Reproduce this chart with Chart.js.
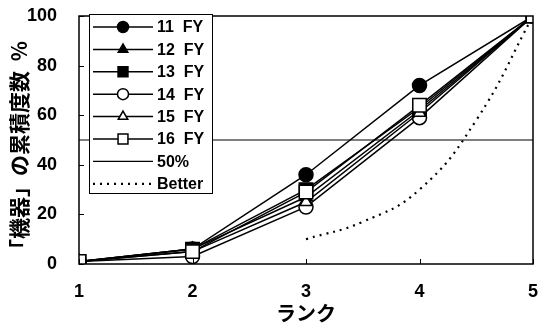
<!DOCTYPE html>
<html>
<head>
<meta charset="utf-8">
<script src="https://cdn.jsdelivr.net/npm/chart.js@4.4.0/dist/chart.umd.min.js"></script>
<style>
  html, body { margin: 0; padding: 0; background: #fff; }
  #wrap { width: 550px; height: 332px; }
</style>
</head>
<body>
<div id="wrap"><canvas id="myChart"></canvas></div>
<script>
// ランク (x) and cumulative share per fiscal year
const ranks = [1, 2, 3, 4, 5];
const fy11 = [1, 6, 36, 72, 100];
const fy12 = [1, 6, 27, 62, 100];
const fy13 = [1, 6, 30, 63, 100];
const fy14 = [1, 3, 23, 59, 100];
const fy15 = [1, 5, 25, 61, 100];
const fy16 = [1, 5, 29, 64, 100];
const half = [50, 50, 50, 50, 50];
const betterX = [3, 3.5, 4, 4.5, 5];
const betterY = [10, 17, 30, 58, 100];
const yTicks = [0, 20, 40, 60, 80, 100];

const numFont = "'Liberation Sans Narrow', 'Liberation Sans', sans-serif";
const jpFont = "'Noto Sans CJK JP', sans-serif";

function pts(xs, ys) {
    return xs.map((x, i) => ({ x: x, y: ys[i] }));
}

function series(label, ys, style, filled, radius) {
    return {
        label: label,
        data: pts(ranks, ys),
        borderColor: '#000',
        borderWidth: 1.5,
        pointStyle: style,
        pointRadius: radius,
        pointBorderWidth: 1.5,
        pointBorderColor: '#000',
        pointBackgroundColor: filled ? '#000' : '#fff',
        tension: 0
    };
}

const datasets = [
    series('11  FY', fy11, 'circle', true, 7),
    series('12  FY', fy12, 'triangle', true, 7),
    series('13  FY', fy13, 'rect', true, 9.5),
    series('14  FY', fy14, 'circle', false, 7),
    series('15  FY', fy15, 'triangle', false, 7),
    series('16  FY', fy16, 'rect', false, 9.5),
    { label: '50%', data: pts(ranks, half), borderColor: '#000', borderWidth: 1.2, pointRadius: 0 },
    { label: 'Better', data: pts(betterX, betterY), borderColor: '#000', borderWidth: 2.2,
      borderDash: [2, 5], pointRadius: 0, tension: 0.45 }
];
// later fiscal years sit on top (16 FY highest)
datasets.forEach((d, i) => { d.order = i < 6 ? 5 - i : i; });

// frame, inward tick marks and the boxed legend
const framePlugin = {
    id: 'frame',
    afterDatasetsDraw(chart) {
        const c = chart.ctx, a = chart.chartArea;
        const xs = chart.scales.x, ys = chart.scales.y;
        c.save();
        c.strokeStyle = '#000';
        c.lineWidth = 1.5;
        c.strokeRect(a.left, a.top, a.right - a.left, a.bottom - a.top);
        c.lineWidth = 1;
        c.beginPath();
        ranks.forEach(r => {
            const px = Math.round(xs.getPixelForValue(r)) + 0.5;
            c.moveTo(px, a.bottom); c.lineTo(px, a.bottom - 5);
        });
        yTicks.forEach(t => {
            const py = Math.round(ys.getPixelForValue(t)) + 0.5;
            c.moveTo(a.left, py); c.lineTo(a.left + 5, py);
        });
        c.stroke();

        // legend box
        const bx = 89, by = 14, bw = 123, bh = 179;
        c.fillStyle = '#fff';
        c.fillRect(bx, by, bw, bh);
        c.lineWidth = 1;
        c.strokeRect(bx + 0.5, by + 0.5, bw, bh);
        chart.data.datasets.forEach((d, i) => {
            const y = by + 13 + i * 22.4;
            c.strokeStyle = '#000';
            c.lineWidth = d.borderWidth;
            c.setLineDash(d.borderDash || []);
            c.beginPath();
            c.moveTo(bx + 4, y); c.lineTo(bx + 64, y);
            c.stroke();
            c.setLineDash([]);
            if (d.pointRadius) {
                c.fillStyle = d.pointBackgroundColor;
                c.lineWidth = d.pointBorderWidth;
                Chart.helpers.drawPoint(c, {
                    pointStyle: d.pointStyle,
                    radius: d.pointStyle === 'rect' ? 7 : 5.5,
                    borderWidth: d.pointBorderWidth,
                    rotation: 0
                }, bx + 34, y);
            }
            c.fillStyle = '#000';
            c.font = 'bold 16px ' + numFont;
            c.textBaseline = 'middle';
            c.textAlign = 'left';
            c.fillText(d.label, bx + 68, y + 1);
        });
        c.restore();
    }
};

const ctx = document.getElementById('myChart');
new Chart(ctx, {
    type: 'line',
    data: { datasets: datasets },
    options: {
        responsive: true,
        maintainAspectRatio: false,
        animation: false,
        layout: { padding: { top: 16, right: 17, left: 6, bottom: 0 } },
        plugins: { legend: { display: false }, tooltip: { enabled: false } },
        scales: {
            x: {
                type: 'linear',
                min: 1, max: 5,
                grid: { display: false, drawTicks: true, tickLength: 16 },
                border: { display: false },
                afterBuildTicks: s => { s.ticks = ranks.map(v => ({ value: v })); },
                afterFit: s => { s.height = 68; },
                ticks: { color: '#000', padding: 1, font: { family: numFont, size: 18, weight: 'bold' } },
                title: { display: true, text: 'ランク', color: '#000', padding: { top: 0, bottom: 7 },
                         font: { family: jpFont, size: 20, weight: 'bold' } }
            },
            y: {
                min: 0, max: 100,
                grid: { display: false, drawTicks: true, tickLength: 21 },
                border: { display: false },
                afterBuildTicks: s => { s.ticks = yTicks.map(v => ({ value: v })); },
                afterFit: s => { s.width = 73; },
                ticks: { color: '#000', padding: 1, font: { family: numFont, size: 18, weight: 'bold' } },
                title: { display: true, text: '「機器」の累積度数  %　', color: '#000', padding: { top: 0, bottom: 0 },
                         font: { family: jpFont, size: 21, weight: 'bold' } }
            }
        }
    },
    plugins: [framePlugin]
});
</script>
</body>
</html>
